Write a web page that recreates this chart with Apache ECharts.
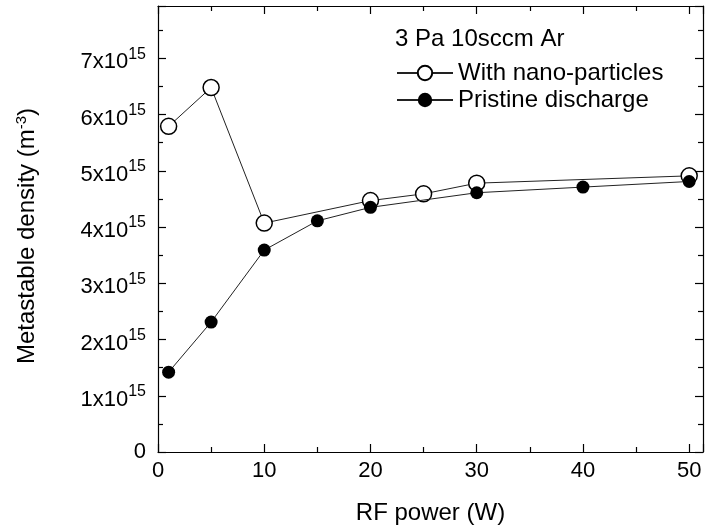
<!DOCTYPE html>
<html>
<head>
<meta charset="utf-8">
<script src="https://cdn.jsdelivr.net/npm/echarts@6/dist/echarts.min.js"></script>
<style>
  html, body { margin: 0; padding: 0; background: #fff; }
  #chart { width: 705px; height: 530px; }
</style>
</head>
<body>
<div id="chart"></div>
<script>
// data
const nanoPower = [1, 5, 10, 20, 25, 30, 50];
const nanoDensity = [5.79e15, 6.48e15, 4.07e15, 4.47e15, 4.59e15, 4.78e15, 4.91e15];
const pristinePower = [1, 5, 10, 15, 20, 30, 40, 50];
const pristineDensity = [1.42e15, 2.31e15, 3.59e15, 4.11e15, 4.35e15, 4.61e15, 4.71e15, 4.81e15];
const seriesNames = ["With nano-particles", "Pristine discharge"];
const conditionText = "3 Pa 10sccm Ar";
const xTitle = "RF power (W)";

const FONT = "Liberation Sans, Arial, sans-serif";
const BLACK = "#000";

const chart = echarts.init(document.getElementById("chart"));

const lineStyle = { color: BLACK, width: 1.2 };

const yLabel = (v) => {
  if (v === 0) return "0";
  const n = v / 1e15;
  if (Math.abs(n - Math.round(n)) > 1e-6) return "";
  return `{b|${Math.round(n)}x10}{s|15}`;
};

const xAxisBase = {
  type: "value",
  min: 0,
  max: 51.3,
  interval: 10,
  splitLine: { show: false },
  axisLine: { show: true, onZero: false, lineStyle },
  axisTick: { show: true, inside: true, length: 8, lineStyle },
  minorTick: { show: true, splitNumber: 2, length: 5, lineStyle },
};

const yAxisBase = {
  type: "value",
  min: 0,
  max: 7.93e15,
  interval: 1e15,
  splitLine: { show: false },
  axisLine: { show: true, onZero: false, lineStyle },
  axisTick: { show: true, inside: true, length: 8, lineStyle },
  minorTick: { show: true, splitNumber: 2, length: 5, lineStyle },
};

const options = {
  animation: false,
  backgroundColor: "#fff",
  textStyle: { fontFamily: FONT },
  grid: { left: 158, right: 2, top: 6, bottom: 78 },
  title: {
    text: conditionText,
    left: 395,
    top: 27,
    padding: 0,
    textStyle: { fontSize: 24, fontWeight: "normal", color: BLACK, fontFamily: FONT },
  },
  legend: {
    orient: "vertical",
    left: 396,
    top: 61,
    padding: 0,
    itemWidth: 56,
    itemHeight: 18,
    itemGap: 3,
    textStyle: { fontSize: 24, lineHeight: 20, color: BLACK, fontFamily: FONT },
    data: seriesNames,
  },
  xAxis: [
    {
      ...xAxisBase,
      position: "bottom",
      name: xTitle,
      nameLocation: "middle",
      nameGap: 49,
      nameTextStyle: { fontSize: 24, color: BLACK, fontFamily: FONT },
      axisLabel: {
        margin: 8,
        fontSize: 22,
        color: BLACK,
        fontFamily: FONT,
        showMaxLabel: false,
        formatter: (v) => (Number.isInteger(v) ? String(v) : ""),
      },
    },
    { ...xAxisBase, position: "top", axisLabel: { show: false } },
  ],
  yAxis: [
    {
      ...yAxisBase,
      position: "left",
      name: "Metastable density (m{s|-3})",
      nameLocation: "middle",
      nameGap: 118,
      nameTextStyle: {
        fontSize: 24,
        color: BLACK,
        fontFamily: FONT,
        padding: [0, 14, 0, 0],
        rich: {
          s: { fontSize: 15, color: BLACK, fontFamily: FONT, padding: [0, 0, 11, 0] },
        },
      },
      axisLabel: {
        margin: 12,
        fontSize: 22,
        color: BLACK,
        fontFamily: FONT,
        showMaxLabel: false,
        formatter: yLabel,
        rich: {
          b: { fontSize: 22, color: BLACK, fontFamily: FONT, padding: [8, 0, 0, 0] },
          s: { fontSize: 16, color: BLACK, fontFamily: FONT, padding: [0, 0, 8, 0] },
        },
      },
    },
    { ...yAxisBase, position: "right", axisLabel: { show: false } },
  ],
  series: [
    {
      name: seriesNames[0],
      type: "line",
      data: nanoPower.map((p, i) => [p, nanoDensity[i]]),
      symbol: "circle",
      symbolSize: 16,
      itemStyle: { color: "#fff", borderColor: BLACK, borderWidth: 1.5 },
      lineStyle: { color: "#222", width: 1 },
      z: 2,
    },
    {
      name: seriesNames[1],
      type: "line",
      data: pristinePower.map((p, i) => [p, pristineDensity[i]]),
      symbol: "circle",
      symbolSize: 13,
      itemStyle: { color: BLACK, borderColor: BLACK, borderWidth: 0 },
      lineStyle: { color: "#222", width: 1 },
      z: 3,
    },
  ],
};

chart.setOption(options);
</script>
</body>
</html>
